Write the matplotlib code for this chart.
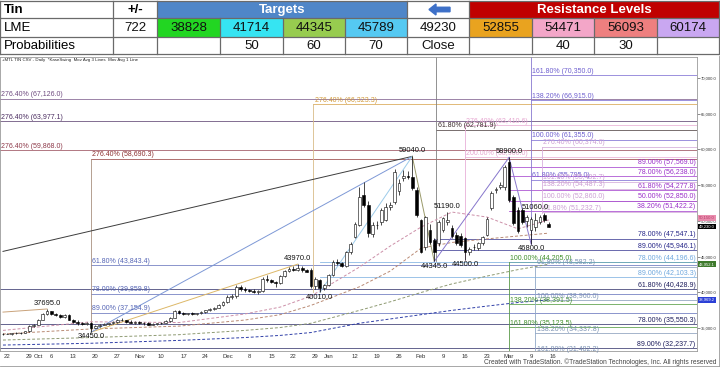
import numpy as np
import pandas as pd
import matplotlib
matplotlib.use("Agg")
import matplotlib.pyplot as plt
import matplotlib.transforms as mtransforms
from matplotlib.patches import Rectangle, FancyArrow

plt.rcParams["font.family"] = ["Liberation Sans", "DejaVu Sans"]

# ── 1. Table values ───────────────────────────────────────────────────────────
row_lme = ["LME", "722", "38828", "41714", "44345", "45789", "49230",
           "52855", "54471", "56093", "60174"]
row_prob = ["Probabilities", "", "", "50", "60", "70", "Close",
            "", "40", "30", ""]
lme_colours = ["white", "white", "#22D622", "#36E4F2", "#97CC4F", "#55C9F2",
               "white", "#E9A31F", "#F3A6C8", "#EE7F7F", "#C9A7F1"]

# ── 2. Daily candles (LME tin) ────────────────────────────────────────────────
days = pd.bdate_range("2025-09-19", "2026-03-13").drop(pd.Timestamp("2026-01-01"))

opens = [34200,
         34250, 34200, 34300, 34350, 34400, 34550, 35350, 35500, 36200, 37000,
         37400, 37000, 36800, 36600, 36900, 36200, 35900, 35700, 35600, 35800,
         35100, 35300, 35500, 35600, 35700, 35900, 36200, 36100, 35900, 35800,
         35900, 35700, 35800, 35500, 35600, 35700, 35800, 36000, 36500, 37400,
         37100, 37000, 37100, 37000, 37100, 37300, 37500, 37700, 37900, 38300,
         38700, 39400, 39500, 40800, 40500, 40300, 40200, 40100, 40200, 41900,
         41700, 41400, 41300, 42300, 43000, 43300, 43200, 43400, 43100, 43200,
         40900, 41800, 40600, 41000,
         42400, 44300, 44100, 43700, 45600, 47800, 49500, 53700, 52300, 48200,
         49400, 49800, 50200, 51900, 52700, 54200, 56000, 56300, 56200, 54300,
         50100, 46300, 48700, 47300, 46900, 48700, 49800, 49000, 48100, 47900,
         47600, 45700, 46300, 46200, 46900, 48100, 51800, 54300, 54800, 54700,
         58200, 53300, 51600, 51500, 50000, 48700, 49100, 49900, 50800, 49600]
highs = [34350,
         34400, 34350, 34450, 34500, 34650, 35450, 35600, 36300, 37150, 37695,
         37450, 37150, 36950, 37000, 36950, 36300, 36100, 35900, 35900, 35850,
         35400, 35600, 35700, 35800, 36000, 36300, 36400, 36200, 36100, 36000,
         36000, 35900, 35900, 35700, 35800, 35900, 36100, 36600, 37500, 37600,
         37300, 37200, 37300, 37200, 37400, 37600, 37800, 38000, 38400, 38800,
         39600, 39800, 41000, 41100, 40700, 40500, 40500, 40400, 42100, 42400,
         41900, 41600, 42500, 43200, 43600, 43700, 43970, 43700, 43300, 43400,
         42100, 41900, 41200, 42600,
         44600, 44700, 44300, 45800, 47100, 49900, 54700, 55400, 52800, 49800,
         50000, 51800, 52500, 52600, 57300, 55900, 57200, 57000, 59040, 54800,
         50300, 50700, 49600, 47600, 50200, 50600, 51190, 49500, 48400, 48300,
         47800, 46300, 46800, 47100, 47900, 50500, 54200, 54800, 55500, 57800,
         58900, 53700, 51900, 51800, 50800, 50600, 51060, 50800, 51100, 49800]
lows = [34050,
        34150, 34100, 34200, 34250, 34350, 34500, 35200, 35400, 36100, 36900,
        36900, 36700, 36500, 36500, 36100, 35700, 35500, 35400, 35500, 34450,
        35000, 35200, 35400, 35500, 35600, 35800, 36000, 35800, 35700, 35600,
        35600, 35500, 35400, 35400, 35500, 35600, 35700, 35900, 36400, 37000,
        36900, 36800, 36900, 36800, 37000, 37200, 37400, 37600, 37800, 38100,
        38500, 39100, 39300, 40200, 40100, 40000, 39900, 39800, 40100, 41500,
        41300, 40700, 41200, 42200, 42900, 43000, 43000, 42900, 42800, 40600,
        40500, 40010, 40400, 40900,
        42300, 43900, 43500, 43600, 45400, 47600, 49300, 52000, 47800, 47700,
        48900, 49500, 50000, 51500, 52400, 53700, 55600, 55900, 54400, 50600,
        45500, 45900, 46800, 44345, 46500, 48400, 49400, 47600, 46700, 46300,
        44500, 45300, 45900, 45900, 46600, 47900, 51500, 53900, 54500, 54400,
        52600, 49400, 48300, 49600, 49200, 46800, 48600, 49600, 49900, 49100]
closes = [34250,
          34200, 34300, 34350, 34400, 34550, 35350, 35500, 36200, 37000, 37400,
          37000, 36800, 36600, 36900, 36200, 35900, 35700, 35600, 35800, 35100,
          35300, 35500, 35600, 35700, 35900, 36200, 36100, 35900, 35800, 35900,
          35700, 35800, 35500, 35600, 35700, 35800, 36000, 36500, 37400, 37100,
          37000, 37100, 37000, 37100, 37300, 37500, 37700, 37900, 38300, 38700,
          39400, 39500, 40800, 40500, 40300, 40200, 40100, 40200, 41900, 41700,
          41400, 41300, 42300, 43000, 43300, 43200, 43400, 43100, 42900, 40900,
          41900, 40600, 41000, 42400,
          44300, 44100, 43700, 45600, 46800, 49600, 53300, 52300, 48300, 49400,
          49500, 51500, 52000, 52300, 56900, 55300, 56300, 56100, 54600, 50900,
          45700, 50500, 47100, 45700, 49900, 50400, 50200, 47900, 46900, 46600,
          45700, 46100, 46400, 46900, 47700, 50300, 53900, 54500, 55100, 57500,
          52900, 49700, 48600, 49800, 50600, 50300, 50200, 50500, 50100, 49230]

tick_dates = ["2025-09-22", "2025-09-29", "2025-10-01", "2025-10-06", "2025-10-13",
              "2025-10-20", "2025-10-27", "2025-11-03", "2025-11-10", "2025-11-17",
              "2025-11-24", "2025-12-01", "2025-12-08", "2025-12-15", "2025-12-22",
              "2025-12-29", "2026-01-02", "2026-01-12", "2026-01-19", "2026-01-26",
              "2026-02-02", "2026-02-09", "2026-02-16", "2026-02-23", "2026-03-02",
              "2026-03-09", "2026-03-16"]
tick_labels = ["22", "29", "Oct", "6", "13", "20", "27", "Nov", "10", "17", "24",
               "Dec", "8", "15", "22", "29", "Jan", "12", "19", "26", "Feb", "9",
               "16", "23", "Mar", "9", "16"]

# ── 3. Moving averages, read at a few bars ────────────────────────────────────
ma_bars = [0, 20, 40, 55, 63, 70, 81, 88, 95, 102, 110, 117, 124]
ma1 = [34700, 35900, 35800, 37000, 37960, 39500, 43560, 46500, 49150, 51250, 50550, 48900, 50150]
ma2 = [34200, 34900, 35300, 36150, 36900, 38200, 40800, 43000, 46200, 47000, 47500, 47900, 48300]
ma3 = [33350, 33700, 34100, 34700, 35100, 35700, 37500, 38700, 40000, 41200, 42300, 43200, 43952.1]
ma4 = [32650, 32900, 33300, 33700, 34000, 34400, 35700, 36300, 36900, 37500, 38100, 38600, 38969.2]

# ── 4. Swing points and swing lines ───────────────────────────────────────────
swing_bars = [10, 20, 67, 72, 93, 98, 101, 105, 115, 121, 120]
swing_prices = [37695.0, 34450.0, 43970.0, 40010.0, 59040.0, 44345.0,
                51190.0, 44500.0, 58900.0, 51060.0, 46800.0]
swing_kind = ["hi", "lo", "hi", "lo", "hi", "lo", "hi", "lo", "hi", "hi", "lo"]

swing_lines = [
    (0, 45750, 93, 59040, "#3C3C3C"),
    (0, 37260, 10, 37695, "#C9A27A"),
    (20, 34450, 67, 43970, "#DDB868"),
    (20, 34450, 93, 59040, "#7D98D6"),
    (72, 40010, 93, 59040, "#9CCBEA"),
    (93, 59040, 98, 44345, "#9A9A6A"),
    (98, 44345, 115, 58900, "#8676CC"),
    (115, 58900, 120, 46800, "#8A78CC"),
]

# ── 5. Fibonacci tools: (anchor bar or None = left edge, label side, colour, levels)
fib_sets = [
    (None, "left", "#6F4B80", [("276.40%", 67126.0)]),
    (None, "left", "#4A2C60", [("276.40%", 63977.1)]),
    (None, "left", "#8E3A4A", [("276.40%", 59868.0)]),
    (20, "left", "#8B2E2E", [("276.40%", 58690.3)]),
    (20, "left", "#5565B5", [("61.80%", 43843.4), ("78.00%", 39859.8), ("89.00%", 37154.9)]),
    (70.5, "left", "#D39A3A", [("276.40%", 66323.3)]),
    (98.5, "left", "#3B2B2B", [("61.80%", 62781.9)]),
    (105, "left", "#E6A6D0", [("276.40%", 63410.6), ("200.00%", 58900.0)]),
    (120, "left", "#6E5FCF", [("161.80%", 70350.0), ("138.20%", 66915.0),
                              ("100.00%", 61355.0), ("61.80%", 55795.0)]),
    (122.5, "left", "#CDA0D5", [("276.40%", 60374.6), ("161.80%", 55492.7), ("138.20%", 54487.3),
                                ("100.00%", 52860.0), ("61.80%", 51232.7)]),
    (115, "left", "#3F8F2A", [("100.00%", 44205.0), ("138.20%", 38391.5), ("161.80%", 35123.5)]),
    (121, "left", "#7C93B4", [("61.80%", 43582.2), ("100.00%", 38960.0),
                              ("138.20%", 34337.8), ("161.80%", 31482.2)]),
    (115, "right", "#9A2EC9", [("89.00%", 57569.0), ("78.00%", 56238.0), ("61.80%", 54277.8),
                               ("50.00%", 52850.0), ("38.20%", 51422.2)]),
    (98, "right", "#262688", [("78.00%", 47547.1), ("89.00%", 45946.1)]),
    (72, "right", "#6FA8DE", [("78.00%", 44196.6), ("89.00%", 42103.3)]),
    (None, "right", "#1D1D5C", [("61.80%", 40428.9), ("78.00%", 35550.3), ("89.00%", 32237.7)]),
]

# vertical legs of the fib tools: (bar, top price or None = top, bottom price, colour)
fib_legs = [
    (20, 58690.3, 34450, "#A89080"),
    (70.5, 66323.3, 40010, "#D8BC88"),
    (98.5, None, 44345, "#808080"),
    (105, 63410.6, 44500, "#E8B0D8"),
    (120, None, 46800, "#8878D0"),
    (122.5, 60374.6, 51060, "#D8B0DE"),
    (115, 44205.0, 31482.2, "#5A9A48"),
    (121, 43582.2, 31000, "#90A8C8"),
]

# ── 6. Figure ─────────────────────────────────────────────────────────────────
fig = plt.figure(figsize=(7.2, 3.67), dpi=100)

page = fig.add_axes([0, 0, 1, 1], zorder=0)
page.set_xlim(0, 720)
page.set_ylim(367, 0)
page.axis("off")

cols = [0, 113, 157, 220, 283, 345, 407, 469, 532, 594, 657, 719]
rows = [1, 18, 37, 54]
grid_c = "#6A6A6A"

# header row
page.add_patch(Rectangle((cols[2], rows[0]), cols[6] - cols[2], rows[1] - rows[0],
                         fc="#4F86C8", ec="none"))
page.add_patch(Rectangle((cols[7], rows[0]), cols[11] - cols[7], rows[1] - rows[0],
                         fc="#C00000", ec="none"))
page.text(4, (rows[0] + rows[1]) / 2 + 0.5, "Tin", fontsize=9.5, fontweight="bold",
          ha="left", va="center")
page.text((cols[1] + cols[2]) / 2, (rows[0] + rows[1]) / 2 + 0.5, "+/-", fontsize=9.5,
          fontweight="bold", ha="center", va="center")
page.text((cols[2] + cols[6]) / 2, (rows[0] + rows[1]) / 2 + 0.5, "Targets", fontsize=9.5,
          fontweight="bold", color="white", ha="center", va="center")
page.text((cols[7] + cols[11]) / 2, (rows[0] + rows[1]) / 2 + 0.5, "Resistance Levels",
          fontsize=9.5, fontweight="bold", color="white", ha="center", va="center")
page.add_patch(FancyArrow(450, 9.5, -21, 0, width=4.5, head_width=11, head_length=7,
                          length_includes_head=True, color="#3D70C8"))

# body rows
for j in range(11):
    page.add_patch(Rectangle((cols[j], rows[1]), cols[j + 1] - cols[j], rows[2] - rows[1],
                             fc=lme_colours[j], ec="none"))
    for r, vals in ((1, row_lme), (2, row_prob)):
        yc = (rows[r] + rows[r + 1]) / 2 + 0.5
        if j == 0:
            page.text(4, yc, vals[j], fontsize=9.5, ha="left", va="center")
        else:
            page.text((cols[j] + cols[j + 1]) / 2, yc, vals[j], fontsize=9.5,
                      ha="center", va="center", color="#111111")

# grid
for yy in rows:
    page.plot([0, 719], [yy, yy], color=grid_c, lw=0.9)
for xx in cols:
    page.plot([xx, xx], [rows[1], rows[3]], color=grid_c, lw=0.9)
for xx in (cols[0], cols[1], cols[2], cols[6], cols[7], cols[11]):
    page.plot([xx, xx], [rows[0], rows[1]], color=grid_c, lw=0.9)

# chart caption and footer
page.text(2, 57.5, "+MTL TIN CSV - Daily  *KaseSwing  Mov Avg 3 Lines  Mov Avg 1 Line",
          fontsize=3.2, ha="left", va="top", color="#222222", zorder=5)
page.text(716, 362, "Created with TradeStation. \u00a9TradeStation Technologies, Inc. All rights reserved",
          fontsize=4.8, ha="right", va="center", color="#444444")
page.plot([0, 719], [366, 366], color="#999999", lw=0.6)
page.plot([719, 719], [56, 366], color="#999999", lw=0.6)

# ── 7. Price chart ────────────────────────────────────────────────────────────
ax = fig.add_axes([0.0, 16 / 367, 697 / 720, 294 / 367], zorder=1)
ax.patch.set_alpha(0)
x = np.arange(len(days))
XL, XR = -0.68, 157.7
YB, YT = 31818, 72937
ax.set_xlim(XL, XR)
ax.set_ylim(YB, YT)

# fib levels
for anchor, side, colour, levels in fib_sets:
    x0 = XL if anchor is None else anchor
    for pct, price in levels:
        ax.plot([x0, XR], [price, price], color=colour, lw=0.6, alpha=0.8, zorder=1)
        label = f"{pct} ({price:,.1f})"
        if side == "left":
            ax.annotate(label, (x0 + 0.3, price), xytext=(0, 0.3), textcoords="offset points",
                        fontsize=5, color=colour, ha="left", va="bottom", zorder=4,
                        annotation_clip=False)
        else:
            ax.annotate(label, (XR - 0.3, price), xytext=(0, 0.3), textcoords="offset points",
                        fontsize=5, color=colour, ha="right", va="bottom", zorder=4,
                        annotation_clip=False)

for bar, top, bottom, colour in fib_legs:
    ax.plot([bar, bar], [YT if top is None else top, bottom], color=colour, lw=0.6, zorder=1)

# moving averages
for vals, colour in ((ma4, "#2F3FA8"), (ma3, "#8E9A72"), (ma2, "#B98A74"), (ma1, "#CC8FA8")):
    ax.plot(ma_bars, vals, color=colour, lw=0.7, ls=(0, (3, 2)), zorder=2)

# swing lines
for b0, p0, b1, p1, colour in swing_lines:
    ax.plot([b0, b1], [p0, p1], color=colour, lw=0.7, zorder=2)

# candles
o = np.array(opens, dtype=float)
h = np.array(highs, dtype=float)
l = np.array(lows, dtype=float)
c = np.array(closes, dtype=float)
up = c >= o
ax.vlines(x, l, h, color="black", lw=0.5, zorder=3)
ax.bar(x, np.abs(c - o), bottom=np.minimum(o, c), width=0.62,
       color=np.where(up, "white", "black"), edgecolor="black", linewidth=0.4, zorder=3)

# swing labels
for b, p, k in zip(swing_bars, swing_prices, swing_kind):
    if k == "hi":
        ax.annotate(f"{p:.1f}", (b, p), xytext=(0, 1.5), textcoords="offset points",
                    fontsize=5.4, ha="center", va="bottom", color="#111111", zorder=5)
    else:
        ax.annotate(f"{p:.1f}", (b, p), xytext=(0, -0.8), textcoords="offset points",
                    fontsize=5.4, ha="center", va="top", color="#111111", zorder=5)

# axes styling
for s in ax.spines.values():
    s.set_color("#9A9A9A")
    s.set_linewidth(0.6)
ax.yaxis.tick_right()
yt = np.arange(35000, 70001, 5000)
ax.set_yticks(yt)
ax.set_yticklabels([f"{v:,.1f}" for v in yt])
ax.tick_params(axis="y", labelsize=3, length=2, width=0.4, pad=1, colors="#333333")
tick_pos = np.searchsorted(days.values, pd.to_datetime(tick_dates).values)
ax.set_xticks(tick_pos)
ax.set_xticklabels(tick_labels)
ax.tick_params(axis="x", labelsize=4.3, length=0, pad=2, colors="#333333")

# value boxes on the price scale (the short average sits just above the close)
trans = mtransforms.blended_transform_factory(ax.transAxes, ax.transData)
for val, fc, tc, va in ((ma1[-1], "#EA8DAE", "#B23A66", "bottom"),
                        (closes[-1], "black", "white", "center"),
                        (ma3[-1], "#3E7A2C", "white", "center"),
                        (ma4[-1], "#2B3FD6", "white", "center")):
    ax.text(1.003, val, f"{val:,.1f}", transform=trans, fontsize=3, color=tc,
            ha="left", va=va, clip_on=False, zorder=6,
            bbox=dict(boxstyle="square,pad=0.2", fc=fc, ec="none"))

fig.savefig("out.png", dpi=100)
